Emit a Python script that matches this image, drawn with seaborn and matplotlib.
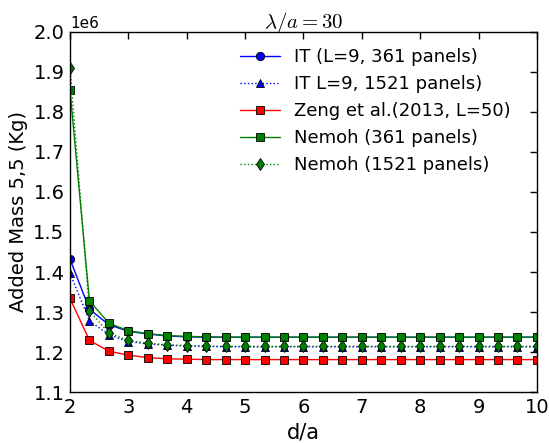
import matplotlib
matplotlib.use("Agg")
import matplotlib.pyplot as plt
import seaborn as sns
import pandas as pd

d_a = [2.0, 2.333, 2.667, 3.0, 3.333, 3.667, 4.0, 4.333, 4.667, 5.0, 5.333, 5.667,
       6.0, 6.333, 6.667, 7.0, 7.333, 7.667, 8.0, 8.333, 8.667, 9.0, 9.333, 9.667, 10.0]

it_361 = [1.432, 1.307, 1.268, 1.252, 1.245, 1.240, 1.238, 1.237, 1.237, 1.237, 1.237, 1.237,
          1.237, 1.237, 1.237, 1.237, 1.237, 1.237, 1.237, 1.237, 1.237, 1.237, 1.237, 1.237, 1.237]
it_1521 = [1.397, 1.278, 1.243, 1.226, 1.220, 1.217, 1.215, 1.214, 1.213, 1.213, 1.213, 1.213,
           1.213, 1.213, 1.213, 1.213, 1.213, 1.213, 1.213, 1.213, 1.213, 1.213, 1.213, 1.213, 1.213]
zeng = [1.334, 1.229, 1.202, 1.192, 1.186, 1.183, 1.182, 1.181, 1.181, 1.181, 1.181, 1.181,
        1.181, 1.181, 1.181, 1.181, 1.181, 1.181, 1.181, 1.181, 1.181, 1.181, 1.181, 1.181, 1.181]
nemoh_361 = [1.855, 1.328, 1.272, 1.253, 1.246, 1.241, 1.239, 1.238, 1.237, 1.237, 1.237, 1.237,
             1.237, 1.237, 1.237, 1.237, 1.237, 1.237, 1.237, 1.237, 1.237, 1.237, 1.237, 1.237, 1.237]
nemoh_1521 = [1.910, 1.303, 1.247, 1.229, 1.222, 1.218, 1.216, 1.215, 1.214, 1.214, 1.214, 1.214,
              1.214, 1.214, 1.214, 1.214, 1.214, 1.214, 1.214, 1.214, 1.214, 1.214, 1.214, 1.214, 1.214]

labels = ["IT (L=9, 361 panels)", "IT L=9, 1521 panels)", "Zeng et al.(2013, L=50)",
          "Nemoh (361 panels)", "Nemoh (1521 panels)"]

sns.set_style("white")
plt.rcParams['font.family'] = ['DejaVu Sans']
plt.rcParams['mathtext.fontset'] = 'cm'
plt.rcParams['text.color'] = 'black'
plt.rcParams['axes.labelcolor'] = 'black'
plt.rcParams['xtick.color'] = 'black'
plt.rcParams['ytick.color'] = 'black'

fig = plt.figure(figsize=(5.49, 4.43), dpi=100)
ax = fig.add_axes([0.1275, 0.1151, 0.8505, 0.8127])

series = [it_361, it_1521, zeng, nemoh_361, nemoh_1521]
styles = [
    dict(color=(0, 0, 1), ls='-', marker='o', mfc=(0, 0, 1)),
    dict(color=(0, 0, 1), ls=':', marker='^', mfc=(0, 0, 1)),
    dict(color=(1, 0, 0), ls='-', marker='s', mfc=(1, 0, 0)),
    dict(color=(0, 0.5, 0), ls='-', marker='s', mfc=(0, 0.5, 0)),
    dict(color=(0, 0.5, 0), ls=':', marker='d', mfc=(0, 0.5, 0)),
]
for vals, lab, st in zip(series, labels, styles):
    df = pd.DataFrame({"x": d_a, "y": [v * 1e6 for v in vals]})
    sns.lineplot(data=df, x="x", y="y", ax=ax, label=lab, color=st['color'],
                 linestyle=st['ls'], marker=st['marker'], markersize=6,
                 markerfacecolor=st['mfc'], markeredgecolor='k', markeredgewidth=0.6,
                 linewidth=1.0)

ax.set_xlim(2, 10)
ax.set_ylim(1.1e6, 2.0e6)
ax.set_xticks([2, 3, 4, 5, 6, 7, 8, 9, 10])
ax.set_yticks([1.1e6, 1.2e6, 1.3e6, 1.4e6, 1.5e6, 1.6e6, 1.7e6, 1.8e6, 1.9e6, 2.0e6])
ax.ticklabel_format(axis='y', style='sci', scilimits=(0, 0))
ax.yaxis.get_offset_text().set_fontsize(11)
ax.yaxis.get_offset_text().set_color('black')
ax.tick_params(direction='in', length=5, width=1, top=True, right=True,
               labelsize=14, pad=4, colors='k')
for sp in ax.spines.values():
    sp.set_color('k')
    sp.set_linewidth(1.0)
ax.set_xlabel("d/a", fontsize=15, color='black')
ax.set_ylabel("Added Mass 5,5 (Kg)", fontsize=14, color='black')
ax.set_title(r"$\lambda/a = 30$", fontsize=15, pad=3, color='black')
leg = ax.legend(loc='upper right', bbox_to_anchor=(0.975, 0.995), frameon=False, fontsize=13,
                handlelength=2.2, labelspacing=0.5, borderaxespad=0.4)
for t in leg.get_texts():
    t.set_color('black')

fig.savefig("out.png", dpi=100)
